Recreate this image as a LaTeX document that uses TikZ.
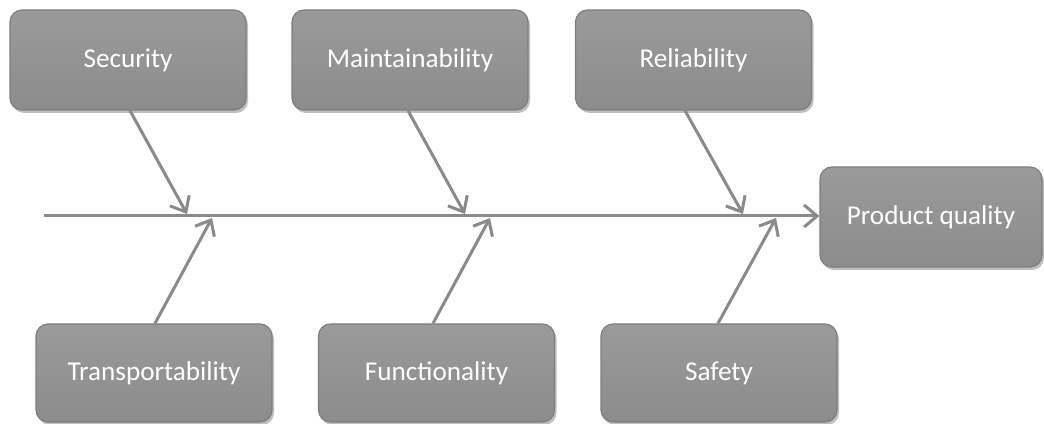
\documentclass[tikz,border=0pt]{standalone}
\usepackage{fontspec}
\setmainfont{Carlito}
\usetikzlibrary{arrows.meta,shadows,calc}
\definecolor{boxfill}{HTML}{8C8C8C}
\definecolor{boxtop}{HTML}{9A9A9A}
\definecolor{boxedge}{HTML}{7E7E7E}
\definecolor{linegray}{HTML}{8A8A8A}
\begin{document}
\begin{tikzpicture}[x=1pt,y=1pt,
  cause/.style={draw=boxedge, line width=1.2pt, rounded corners=12pt,
    top color=boxtop, bottom color=boxfill, text=white,
    minimum width=236pt, minimum height=100pt, inner sep=0pt,
    font=\fontsize{27.2}{32}\selectfont,
    drop shadow={shadow xshift=2pt, shadow yshift=-3pt, opacity=0.25, fill=black}},
  bone/.style={draw=linegray, line width=3pt,
    -{Straight Barb[length=13pt, width=22pt, line width=3pt]}}]
\useasboundingbox (0,0) rectangle (1044,423);

% cause boxes, top row
\node[cause] (sec) at (128,363) {Security};
\node[cause] (mnt) at (410,363) {Maintainability};
\node[cause] (rel) at (693.5,363) {Reliability};
% cause boxes, bottom row
\node[cause, minimum height=98pt] (trn) at (154,50) {Transportability};
\node[cause, minimum height=98pt] (fun) at (436.5,50) {Functionality};
\node[cause, minimum height=98pt] (saf) at (719,50) {Safety};
% effect box
\node[cause, minimum width=222pt] (pq) at (931,206) {Product quality};

% spine and where the bones meet it
\coordinate (sp) at (44,207);
\coordinate (t1) at (187,209);
\coordinate (t2) at (465,209);
\coordinate (t3) at (743,209);
\coordinate (b1) at (212,205);
\coordinate (b2) at (490,205);
\coordinate (b3) at (776,205);

\draw[bone] (sp) -- (sp -| pq.west);
\draw[bone] ([xshift=2pt]sec.south) -- (t1);
\draw[bone] ([xshift=-2pt]mnt.south) -- (t2);
\draw[bone] ([xshift=-8.5pt]rel.south) -- (t3);
\draw[bone] ([xshift=1pt]trn.north) -- (b1);
\draw[bone] ([xshift=-3.5pt]fun.north) -- (b2);
\draw[bone] ([xshift=-1pt]saf.north) -- (b3);
\end{tikzpicture}
\end{document}
